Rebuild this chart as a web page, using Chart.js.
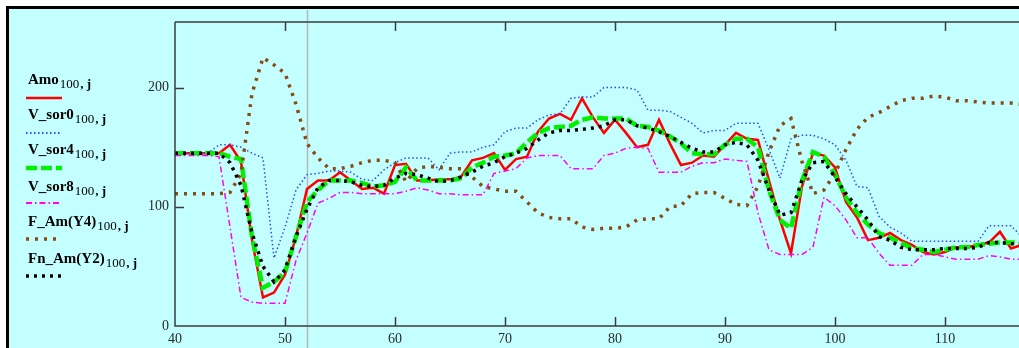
<!DOCTYPE html>
<html>
<head>
<meta charset="utf-8">
<script src="https://cdn.jsdelivr.net/npm/chart.js@4"></script>
<style>
  html, body { margin: 0; padding: 0; background: #fff; }
  #wrap { width: 1019px; height: 348px; }
</style>
</head>
<body>
<div id="wrap"><canvas id="plot" width="1019" height="348"></canvas></div>
<script>
// index j (x values)
const xs = [40,41,42,43,44,45,46,47,48,49,50,51,52,53,54,55,56,57,58,59,60,61,62,63,64,65,66,67,68,69,
  70,71,72,73,74,75,76,77,78,79,80,81,82,83,84,85,86,87,88,89,90,91,92,93,94,95,96,97,98,99,
  100,101,102,103,104,105,106,107,108,109,110,111,112,113,114,115,116,117];

const amo = [145,145,145,145,145,152,138,72,24,28,43,75,115,122,122,129,122,115,116,111,135,136,122,122,123,123,125,139,141,145,
  131,140,142,163,174,178,173,191,175,162,173,162,150,152,173,153,135,137,143,142,152,162,157,156,122,89,61,117,145,143,
  133,104,91,72,74,78,72,68,62,60,62,66,66,68,70,79,65,68];

const vSor0 = [145,145,145,145,152,152,150,145,141,57,83,114,127,128,130,130,129,123,122,131,137,141,141,141,131,145,146,146,150,152,
  163,166,166,173,177,178,191,192,192,200,200,200,198,181,181,180,175,170,162,164,164,170,170,170,148,124,157,160,160,157,
  152,139,117,116,92,83,78,71,71,71,71,71,71,71,84,84,84,75];

const vSor4 = [145,145,145,145,145,142,140,75,32,37,45,75,104,114,122,122,122,120,117,118,121,133,122,122,122,122,124,133,137,142,
  143,145,154,162,166,167,168,173,175,174,174,174,168,167,164,159,153,145,144,144,152,157,157,150,114,89,82,122,146,142,
  127,108,95,85,78,74,70,65,64,62,64,66,66,68,69,70,70,70];

const vSor8 = [143,143,143,143,142,83,24,20,19,19,19,55,78,103,107,112,112,111,111,111,111,113,116,114,111,111,110,110,110,128,
  130,132,141,143,143,143,132,132,132,143,145,149,150,149,129,129,129,134,137,137,140,139,138,95,64,60,60,60,66,108,
  101,89,74,74,61,51,51,51,60,60,58,56,56,56,59,58,56,56];

const fAmY4 = [111,111,111,111,111,112,128,195,225,219,212,186,153,141,132,132,134,137,139,139,137,121,132,134,133,132,132,125,117,115,
  113,113,104,95,91,90,90,83,81,82,82,83,89,90,90,100,101,111,112,112,107,102,101,117,146,168,174,138,111,114,
  128,148,165,175,179,184,189,191,191,193,192,189,189,188,187,187,187,186];

const fnAmY2 = [145,145,145,145,145,137,118,78,50,37,47,75,98,116,122,122,121,118,117,118,124,128,127,124,121,122,125,129,134,137,
  142,145,149,156,162,164,164,165,166,168,173,173,168,166,163,159,154,149,146,146,152,154,152,139,114,93,95,122,137,138,
  125,111,100,89,75,72,66,64,64,64,65,65,65,66,70,70,69,69];

const xTicks = [40, 50, 60, 70, 80, 90, 100, 110];
const yTicks = [0, 100, 200];
const cursorX = 52;

const seriesNames = ['Amo', 'V_sor0', 'V_sor4', 'V_sor8', 'F_Am(Y4)', 'Fn_Am(Y2)'];
const seriesValues = [amo, vSor0, vSor4, vSor8, fAmY4, fnAmY2];
const styles = [
  { color: '#ff0000', width: 2.5, dash: [] },
  { color: '#2a4bff', width: 1.5, dash: [1.5, 2.5] },
  { color: '#00f000', width: 4.5, dash: [11, 4] },
  { color: '#ff00ff', width: 1.5, dash: [6, 3, 1.5, 3] },
  { color: '#8a4a12', width: 3.5, dash: [3, 6] },
  { color: '#000000', width: 3.5, dash: [3, 5] }
];

const datasets = seriesNames.map((name, i) => ({
  label: name,
  data: xs.map((x, k) => ({ x: x, y: seriesValues[i][k] })),
  borderColor: styles[i].color,
  borderWidth: styles[i].width,
  borderDash: styles[i].dash,
  pointRadius: 0,
  tension: 0,
  fill: false,
  order: seriesNames.length - i
}));

const framePlugin = {
  id: 'frame',
  beforeDraw(chart) {
    const ctx = chart.ctx;
    ctx.save();
    ctx.fillStyle = '#ffffff';
    ctx.fillRect(0, 0, chart.width, chart.height);
    ctx.fillStyle = '#c4ffff';
    ctx.fillRect(9, 9, chart.width, chart.height);
    ctx.strokeStyle = '#000';
    ctx.lineWidth = 3;
    ctx.beginPath();
    ctx.moveTo(7.5, chart.height);
    ctx.lineTo(7.5, 7.5);
    ctx.lineTo(chart.width, 7.5);
    ctx.stroke();
    ctx.restore();
  },
  beforeDatasetsDraw(chart) {
    const ctx = chart.ctx;
    const px = Math.round(chart.scales.x.getPixelForValue(cursorX)) + 0.5;
    ctx.save();
    ctx.strokeStyle = '#b9b9b9';
    ctx.lineWidth = 1.5;
    ctx.beginPath();
    ctx.moveTo(px, 10);
    ctx.lineTo(px, chart.height);
    ctx.stroke();
    ctx.restore();
  },
  afterDatasetsDraw(chart) {
    const ctx = chart.ctx;
    const a = chart.chartArea;
    const xs_ = chart.scales.x, ys_ = chart.scales.y;
    ctx.save();
    ctx.strokeStyle = '#3c3c3c';
    ctx.lineWidth = 1.5;
    ctx.beginPath();
    ctx.moveTo(a.left, a.top);
    ctx.lineTo(a.right + 5, a.top);
    ctx.moveTo(a.left, a.top);
    ctx.lineTo(a.left, a.bottom);
    ctx.lineTo(a.right + 5, a.bottom);
    xTicks.forEach(v => {
      const p = Math.round(xs_.getPixelForValue(v)) + 0.5;
      if (v === xTicks[0]) return;
      ctx.moveTo(p, a.bottom);
      ctx.lineTo(p, a.bottom - 9);
      ctx.moveTo(p, a.top);
      ctx.lineTo(p, a.top + 9);
    });
    yTicks.forEach(v => {
      if (v === 0) return;
      const p = Math.round(ys_.getPixelForValue(v)) + 0.5;
      ctx.moveTo(a.left, p);
      ctx.lineTo(a.left + 9, p);
    });
    ctx.stroke();
    ctx.restore();
  },
  afterDraw(chart) {
    // legend on the left, label with subscript then line sample
    const ctx = chart.ctx;
    const baselines = [84, 119, 154, 191, 226, 263];
    const sampleY = [98, 133, 168, 203, 239, 276];
    ctx.save();
    seriesNames.forEach((name, i) => {
      ctx.fillStyle = '#000';
      ctx.textBaseline = 'alphabetic';
      ctx.font = 'bold 15px "Liberation Serif", serif';
      ctx.fillText(name, 28, baselines[i]);
      const w = ctx.measureText(name).width;
      ctx.font = '13px "Liberation Serif", serif';
      ctx.fillText('100', 28 + w + 1, baselines[i] + 4);
      const w2 = ctx.measureText('100').width;
      ctx.font = 'bold 13px "Liberation Serif", serif';
      ctx.fillText(', j', 28 + w + 1 + w2 + 1, baselines[i] + 4);

      ctx.strokeStyle = styles[i].color;
      ctx.lineWidth = Math.max(styles[i].width, 2);
      ctx.setLineDash(styles[i].dash);
      ctx.beginPath();
      ctx.moveTo(26, sampleY[i]);
      ctx.lineTo(62, sampleY[i]);
      ctx.stroke();
      ctx.setLineDash([]);
    });
    ctx.restore();
  }
};

new Chart(document.getElementById('plot').getContext('2d'), {
  type: 'line',
  data: { datasets: datasets },
  options: {
    responsive: false,
    animation: false,
    devicePixelRatio: 1,
    layout: { padding: { top: 22, right: 0, bottom: 0, left: 0 } },
    plugins: { legend: { display: false }, tooltip: { enabled: false } },
    scales: {
      x: {
        type: 'linear',
        min: 40,
        max: 116.73,
        grid: { display: false, drawTicks: false },
        border: { display: false },
        afterBuildTicks: s => { s.ticks = xTicks.map(v => ({ value: v })); },
        afterFit: s => { s.height = 22; },
        ticks: {
          padding: 5,
          maxRotation: 0,
          autoSkip: false,
          color: '#2a2a2a',
          font: { family: '"Liberation Serif", serif', size: 14 }
        }
      },
      y: {
        min: 0,
        max: 255,
        grid: { display: false, drawTicks: false },
        border: { display: false },
        afterBuildTicks: s => { s.ticks = yTicks.map(v => ({ value: v })); },
        afterFit: s => { s.width = 175; },
        ticks: {
          padding: 6,
          color: '#2a2a2a',
          font: { family: '"Liberation Serif", serif', size: 14 }
        }
      }
    }
  },
  plugins: [framePlugin]
});
</script>
</body>
</html>
